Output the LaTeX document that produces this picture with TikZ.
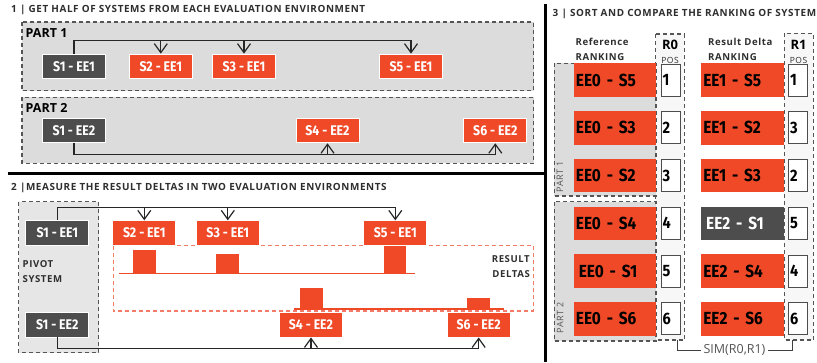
\documentclass[tikz,border=0pt]{standalone}
\usepackage{fontspec}
\setmainfont{Open Sans}
\newfontfamily\titlefont{Open Sans}[LetterSpace=6]
\newfontfamily\boxfont{Fira Sans}[FakeStretch=0.88]
\usetikzlibrary{arrows.meta}
\definecolor{eered}{HTML}{EF4928}
\definecolor{eedark}{HTML}{4D4D4D}
\definecolor{eegray}{HTML}{DCDCDC}
\definecolor{pivotgray}{HTML}{E6E6E6}
\definecolor{frameline}{HTML}{555555}
\definecolor{deltared}{HTML}{F47C66}
\definecolor{inktext}{HTML}{2E2E2E}
\tikzstyle{sysbox} = [rectangle, minimum width=63pt, minimum height=24.5pt, inner sep=0pt, text centered, draw=white, line width=0.8pt, fill=eered, text=white, font=\boxfont\bfseries\fontsize{14}{15}\selectfont]
\tikzstyle{pivotbox} = [sysbox, fill=eedark]
\tikzstyle{rankbox} = [rectangle, minimum height=33.5pt, text width=77.9pt, inner xsep=2.4pt, inner ysep=0pt, align=left, fill=eered, text=black, font=\boxfont\bfseries\fontsize{17.5}{18}\selectfont]
\tikzstyle{rankpivot} = [rankbox, fill=eedark, text=white]
\tikzstyle{posbox} = [rectangle, minimum height=32pt, text width=16pt, inner xsep=1.5pt, inner ysep=0pt, align=left, draw=eedark, line width=1pt, fill=white, font=\boxfont\bfseries\fontsize{16.5}{17}\selectfont]
\tikzstyle{partframe} = [draw=frameline, line width=1.2pt, dash pattern=on 4pt off 3pt, fill=eegray]
\tikzstyle{pivotframe} = [partframe, fill=pivotgray]
\tikzstyle{colframe} = [partframe, fill=white!97!black]
\tikzstyle{deltaframe} = [draw=deltared, line width=1.3pt, dash pattern=on 4pt off 3pt]
\tikzstyle{sepline} = [line width=2.6pt, black]
\tikzstyle{arrow} = [line width=1.2pt, draw=black!85, ->, >={Straight Barb[length=9pt,width=13pt]}]
\tikzstyle{simline} = [line width=1pt, draw=black!75]
\tikzstyle{title} = [anchor=west, inner sep=0pt, text=inktext, font=\titlefont\bfseries\fontsize{9.9}{10}\selectfont]
\tikzstyle{parttext} = [anchor=west, inner sep=0pt, text=black, font=\bfseries\fontsize{12.5}{13}\selectfont]
\tikzstyle{smalltext} = [inner sep=0pt, text=inktext, font=\titlefont\bfseries\fontsize{9.6}{14.5}\selectfont]
\tikzstyle{sidetext} = [inner sep=0pt, rotate=90, text=frameline, font=\titlefont\fontsize{9}{9}\selectfont]

\begin{document}
\begin{tikzpicture}[x=1pt,y=-1pt]
\useasboundingbox (0,0) rectangle (817,362);

\node (t1) [title] at (11,10) {1 | GET HALF OF SYSTEMS FROM EACH EVALUATION ENVIRONMENT};
\draw [partframe] (22,22) rectangle (533.5,90.7);
\draw [partframe] (22,97.3) rectangle (533.5,163.3);
\node (part1) [parttext] at (25.5,33.3) {PART 1};
\node (part2) [parttext] at (25.5,108.3) {PART 2};
\node (a1) [pivotbox] at (74,66.3) {S1 - EE1};
\node (a2) [sysbox] at (160.8,66.3) {S2 - EE1};
\node (a3) [sysbox] at (244,66.3) {S3 - EE1};
\node (a5) [sysbox] at (411,66.3) {S5 - EE1};
\node (b1) [pivotbox] at (74,130.6) {S1 - EE2};
\node (b4) [sysbox] at (327.5,130.6) {S4 - EE2};
\node (b6) [sysbox] at (495.3,130.6) {S6 - EE2};
\coordinate (top1) at (0,40.7);
\coordinate (bot1) at (0,154.3);
\draw [arrow] (a1.north) -- (a1.north |- top1) -| (a5.north);
\draw [arrow] (a2.north |- top1) -- (a2.north);
\draw [arrow] (a3.north |- top1) -- (a3.north);
\draw [arrow] (b1.south) -- (b1.south |- bot1) -| (b6.south);
\draw [arrow] (b4.south |- bot1) -- (b4.south);

\draw [sepline] (7.6,173.3) -- (545.5,173.3);
\draw [sepline] (545.5,4) -- (545.5,362);

\node (t2) [title] at (11,187.7) {2 |MEASURE THE RESULT DELTAS IN TWO EVALUATION ENVIRONMENTS};
\draw [pivotframe] (18.7,201.7) rectangle (98.7,352.7);
\node (pivot) [smalltext, anchor=west, align=left] at (22.5,271.6) {PIVOT\\SYSTEM};
\draw [deltaframe] (113.7,245.7) rectangle (533.7,311);
\node (deltas) [smalltext, anchor=east, align=right] at (530,266.8) {RESULT\\DELTAS};
\draw [eered, line width=1.2pt] (119.3,273.3) -- (414.7,273.3);
\draw [eered, line width=1.2pt] (293.7,309) -- (504.3,309);
\fill [eered] (132.7,250.3) rectangle (155.7,273.3);
\fill [eered] (216,254) rectangle (239,273.3);
\fill [eered] (384,244) rectangle (406.3,273.3);
\fill [eered] (299.7,288.3) rectangle (323,309);
\fill [eered] (467,297.7) rectangle (490.3,309);
\node (c1) [pivotbox] at (57.3,233) {S1 - EE1};
\node (c2) [sysbox] at (144.3,233) {S2 - EE1};
\node (c3) [sysbox] at (227.8,233) {S3 - EE1};
\node (c5) [sysbox] at (395.3,233) {S5 - EE1};
\node (d1) [pivotbox] at (57.3,324.8) {S1 - EE2};
\node (d4) [sysbox] at (311,324.8) {S4 - EE2};
\node (d6) [sysbox] at (478.7,324.8) {S6 - EE2};
\coordinate (top2) at (0,207.3);
\coordinate (bot2) at (0,348.3);
\draw [arrow] (c1.north) -- (c1.north |- top2) -| (c5.north);
\draw [arrow] (c2.north |- top2) -- (c2.north);
\draw [arrow] (c3.north |- top2) -- (c3.north);
\draw [arrow] (d1.south) -- (d1.south |- bot2) -| (d6.south);
\draw [arrow] (d4.south |- bot2) -- (d4.south);

\node (t3) [title] at (552.5,14.3) {3 | SORT AND COMPARE THE RANKING OF SYSTEM};
\node (refhead) [smalltext, anchor=west, align=left] at (575.5,49.2) {Reference\\RANKING};
\node (reshead) [smalltext, anchor=west, align=left] at (708,49.2) {Result Delta\\RANKING};
\draw [colframe] (655.7,34) rectangle (684.3,340);
\draw [colframe] (784.3,33.3) rectangle (813.3,340);
\node (r0) [inner sep=0pt, font=\bfseries\fontsize{13}{13}\selectfont] at (670,45) {R0};
\node (pos0) [smalltext, font=\titlefont\fontsize{8.5}{9}\selectfont] at (670,60.5) {POS};
\node (r1) [inner sep=0pt, font=\bfseries\fontsize{13}{13}\selectfont] at (798.5,45) {R1};
\node (pos1) [smalltext, font=\titlefont\fontsize{8.5}{9}\selectfont] at (798.5,60.5) {POS};
\draw [partframe] (554.3,63.3) rectangle (656,196);
\draw [partframe] (554.3,201.7) rectangle (656,341);
\node (side1) [sidetext] at (560,177) {PART 1};
\node (side2) [sidetext] at (560,318) {PART 2};

\node (e1) [rankbox, anchor=west] at (573.3,80) {EE0 - S5};
\node (e2) [rankbox, anchor=west] at (573.3,127.75) {EE0 - S3};
\node (e3) [rankbox, anchor=west] at (573.3,175.5) {EE0 - S2};
\node (e4) [rankbox, anchor=west] at (573.3,223.25) {EE0 - S4};
\node (e5) [rankbox, anchor=west] at (573.3,271) {\,EE0 - S1};
\node (e6) [rankbox, anchor=west] at (573.3,318.75) {EE0 - S6};
\node (p1) [posbox] at (670.5,80) {1};
\node (p2) [posbox] at (670.5,127.75) {2};
\node (p3) [posbox] at (670.5,175.5) {3};
\node (p4) [posbox] at (670.5,223.25) {4};
\node (p5) [posbox] at (670.5,271) {5};
\node (p6) [posbox] at (670.5,318.75) {6};
\node (f1) [rankbox, anchor=west] at (700.7,80) {EE1 - S5};
\node (f2) [rankbox, anchor=west] at (700.7,127.75) {EE1 - S2};
\node (f3) [rankbox, anchor=west] at (700.7,175.5) {EE1 - S3};
\node (f4) [rankpivot, anchor=west] at (700.7,223.25) {\,EE2 - S1};
\node (f5) [rankbox, anchor=west] at (700.7,271) {EE2 - S4};
\node (f6) [rankbox, anchor=west] at (700.7,318.75) {EE2 - S6};
\node (q1) [posbox] at (798,80) {1};
\node (q2) [posbox] at (798,127.75) {3};
\node (q3) [posbox] at (798,175.5) {2};
\node (q4) [posbox] at (798,223.25) {5};
\node (q5) [posbox] at (798,271) {4};
\node (q6) [posbox] at (798,318.75) {6};

\node (sim) [inner xsep=2pt, text=frameline, font=\fontsize{12.5}{13}\selectfont] at (734.5,350) {SIM(R0,R1)};
\coordinate (simL) at (677.7,340);
\coordinate (simR) at (792.3,340);
\draw [simline] (simL) |- (sim.west);
\draw [simline] (simR) |- (sim.east);
\end{tikzpicture}
\end{document}
